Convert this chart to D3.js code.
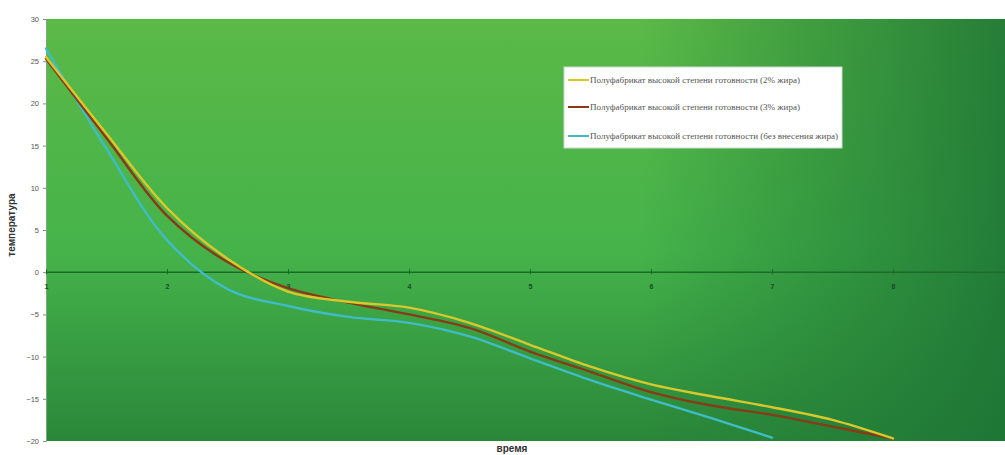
<!DOCTYPE html>
<html><head><meta charset="utf-8">
<script src="https://cdn.jsdelivr.net/npm/d3@7"></script>
<style>html,body{margin:0;padding:0;background:#fff;overflow:hidden}</style>
</head><body>
<svg id="c" width="1005" height="455"></svg>
<script>
// ---- data ----
const times = [1, 1.5, 2, 2.5, 3, 3.5, 4, 4.5, 5, 5.5, 6, 6.5, 7, 7.5, 8];
const fat2 = [25.5, 16.4, 7.6, 1.6, -2.3, -3.5, -4.2, -6.0, -8.6, -11.2, -13.3, -14.7, -16.0, -17.5, -19.7];
const fat3 = [25.3, 15.9, 6.7, 1.2, -1.9, -3.6, -5.0, -6.6, -9.4, -11.8, -14.2, -15.8, -16.9, -18.3, -19.7];
const noFatTimes = [1, 1.5, 2, 2.5, 3, 3.5, 4, 4.5, 5, 5.5, 6, 6.5, 7];
const noFat = [26.5, 14.6, 3.8, -2.0, -4.0, -5.3, -6.0, -7.6, -10.2, -12.8, -15.1, -17.3, -19.6];
const xTicks = [1, 2, 3, 4, 5, 6, 7, 8];
const yTicks = [-20, -15, -10, -5, 0, 5, 10, 15, 20, 25, 30];
const seriesNames = [
  "Полуфабрикат высокой степени готовности (2% жира)",
  "Полуфабрикат высокой степени готовности (3% жира)",
  "Полуфабрикат высокой степени готовности (без внесения жира)"
];
const seriesColors = ["#d8c82c", "#8a3a16", "#3fbcc6"];

const svg = d3.select("#c");
const x = d3.scaleLinear().domain([1, 9]).range([46, 1014]);
const y = d3.scaleLinear().domain([-20, 30]).range([441, 19]);

const defs = svg.append("defs");
const gv = defs.append("linearGradient").attr("id", "gv").attr("x1", 0).attr("y1", 0).attr("x2", 0).attr("y2", 1);
gv.append("stop").attr("offset", "0").attr("stop-color", "#5bb947");
gv.append("stop").attr("offset", "0.55").attr("stop-color", "#45b34a");
gv.append("stop").attr("offset", "1").attr("stop-color", "#2a873a");
const gh = defs.append("linearGradient").attr("id", "gh").attr("x1", 0).attr("y1", 0).attr("x2", 1).attr("y2", 0);
gh.append("stop").attr("offset", "0").attr("stop-color", "#1f7a35").attr("stop-opacity", 0);
gh.append("stop").attr("offset", "0.62").attr("stop-color", "#1f7a35").attr("stop-opacity", 0);
gh.append("stop").attr("offset", "0.8").attr("stop-color", "#1f7a35").attr("stop-opacity", 0.45);
gh.append("stop").attr("offset", "1").attr("stop-color", "#1c7334").attr("stop-opacity", 0.85);

const px0 = x(1), px1 = 1005, py0 = y(30), py1 = y(-20);
svg.append("rect").attr("x", px0).attr("y", py0).attr("width", px1 - px0).attr("height", py1 - py0).attr("fill", "url(#gv)");
svg.append("rect").attr("x", px0).attr("y", py0).attr("width", px1 - px0).attr("height", py1 - py0).attr("fill", "url(#gh)");

// y axis
const yAxis = svg.append("g").attr("transform", `translate(${px0},0)`)
  .call(d3.axisLeft(y).tickValues(yTicks).tickSize(3).tickPadding(4));
yAxis.select(".domain").attr("stroke", "#7fa87f");
yAxis.selectAll(".tick line").attr("stroke", "#888");
yAxis.selectAll("text").attr("font-family", "Liberation Sans, Arial, sans-serif").attr("font-size", 7.5).attr("fill", "#555");

// zero line with ticks
const xAxis = svg.append("g").attr("transform", `translate(0,${y(0)})`)
  .call(d3.axisBottom(x).tickValues(xTicks).tickSize(3).tickPadding(9).tickFormat(d3.format("d")));
xAxis.select(".domain").attr("stroke", "#1d6a2b").attr("stroke-width", 1.6).attr("d", `M${px0},0H${px1}`);
xAxis.selectAll(".tick line").attr("stroke", "#1d6a2b").attr("y1", -3).attr("y2", 2);
xAxis.selectAll("text").attr("font-family", "Liberation Sans, Arial, sans-serif").attr("font-size", 7).attr("font-weight", "bold").attr("fill", "#1a4a22");

// lines
const line = d3.line().x(d => x(d[0])).y(d => y(d[1])).curve(d3.curveCatmullRom.alpha(0.5));
const data = [
  d3.zip(times, fat2),
  d3.zip(times, fat3),
  d3.zip(noFatTimes, noFat)
];
[2, 1, 0].forEach(i => {
  svg.append("path").attr("d", line(data[i])).attr("fill", "none")
    .attr("stroke", seriesColors[i]).attr("stroke-width", 2.4).attr("stroke-linecap", "round");
});

// legend
const lg = svg.append("g");
lg.append("rect").attr("x", 564).attr("y", 67).attr("width", 278).attr("height", 81)
  .attr("fill", "#fff").attr("stroke", "#cfd8cf").attr("stroke-width", 1);
const ly = [80, 107, 136];
seriesNames.forEach((n, i) => {
  lg.append("line").attr("x1", 568).attr("x2", 589).attr("y1", ly[i]).attr("y2", ly[i])
    .attr("stroke", seriesColors[i]).attr("stroke-width", 2);
  lg.append("text").attr("x", 590).attr("y", ly[i] + 2.5).text(n)
    .attr("font-family", "Liberation Serif, Times New Roman, serif").attr("font-size", 7.5)
    .attr("fill", "#555").attr("textLength", i === 2 ? 248 : 210).attr("lengthAdjust", "spacingAndGlyphs");
});

// axis titles
svg.append("text").attr("transform", `translate(15,225) rotate(-90)`).attr("text-anchor", "middle")
  .attr("font-family", "Liberation Sans, Arial, sans-serif").attr("font-size", 10).attr("font-weight", "bold")
  .attr("fill", "#333").text("температура");
svg.append("text").attr("x", 512).attr("y", 452).attr("text-anchor", "middle")
  .attr("font-family", "Liberation Sans, Arial, sans-serif").attr("font-size", 10).attr("font-weight", "bold")
  .attr("fill", "#333").text("время");
</script>
</body></html>
